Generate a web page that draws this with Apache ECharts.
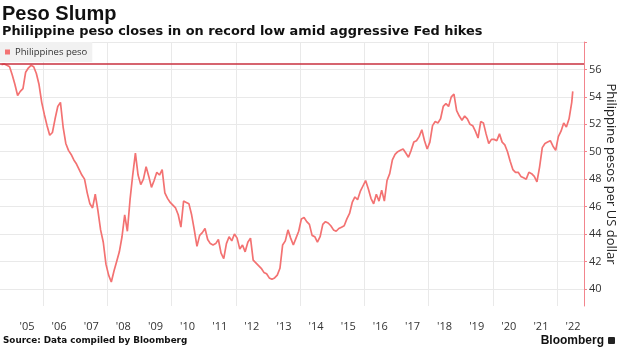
<!DOCTYPE html>
<html>
<head>
<meta charset="utf-8">
<script src="https://cdn.jsdelivr.net/npm/echarts@6/dist/echarts.min.js"></script>
<style>
  html, body { margin: 0; padding: 0; background: #ffffff; }
  #chart { width: 620px; height: 348px; }
</style>
</head>
<body>
<div id="chart"></div>
<script>
// USD/PHP month-by-month closes, starting September 2004
const seriesName = 'Philippines peso';
const firstYear = 2004;
const firstMonth = 9;
const pesoMonthly = [
  // 2004 Sep-Dec
  56.35, 56.4, 56.3, 56.2,
  // 2005
  55.6, 54.9, 54.1, 54.4, 54.6, 55.8, 56.1, 56.3, 56.2, 55.7, 54.9, 53.6,
  // 2006
  52.7, 51.9, 51.2, 51.4, 52.4, 53.3, 53.6, 51.8, 50.6, 50.1, 49.8, 49.4,
  // 2007
  49.1, 48.7, 48.3, 48.0, 47.0, 46.2, 45.9, 46.9, 45.7, 44.3, 43.4, 41.8,
  // 2008
  41.0, 40.5, 41.3, 42.0, 42.7, 43.8, 45.4, 44.2, 46.5, 48.3, 49.9, 48.3,
  // 2009
  47.6, 48.0, 48.9, 48.2, 47.4, 47.9, 48.5, 48.3, 48.7, 47.0, 46.6, 46.3,
  // 2010
  46.1, 45.9, 45.4, 44.5, 46.4, 46.3, 46.2, 45.4, 44.3, 43.1, 43.9, 44.1,
  // 2011
  44.4, 43.6, 43.3, 43.2, 43.3, 43.6, 42.6, 42.2, 43.3, 43.8, 43.5, 44.0,
  // 2012
  43.7, 42.9, 43.2, 42.7, 43.4, 43.7, 42.1, 41.9, 41.7, 41.5, 41.2, 41.1,
  // 2013
  40.8, 40.7, 40.8, 41.0, 41.5, 43.2, 43.5, 44.3, 43.7, 43.2, 43.7, 44.2,
  // 2014
  45.1, 45.2, 44.9, 44.7, 43.9, 43.8, 43.4, 43.8, 44.7, 44.9, 44.8, 44.6,
  // 2015
  44.3, 44.2, 44.4, 44.5, 44.6, 45.1, 45.5, 46.3, 46.7, 46.5, 47.1, 47.5,
  // 2016
  47.9, 47.3, 46.6, 46.2, 46.9, 46.4, 47.2, 46.4, 47.9, 48.4, 49.4, 49.8,
  // 2017
  50.0, 50.1, 50.2, 49.9, 49.6, 50.1, 50.7, 50.8, 51.1, 51.6, 50.8, 50.2,
  // 2018
  50.7, 51.9, 52.2, 52.1, 52.4, 53.3, 53.5, 53.3, 54.0, 54.2, 53.0, 52.6,
  // 2019
  52.3, 52.6, 52.4, 52.0, 51.9, 51.5, 51.0, 52.2, 52.1, 51.3, 50.6, 50.9,
  // 2020
  50.9, 50.8, 51.3, 50.7, 50.5, 50.0, 49.3, 48.7, 48.5, 48.5, 48.2, 48.1,
  // 2021
  48.0, 48.5, 48.4, 48.2, 47.8, 48.9, 50.3, 50.6, 50.7, 50.8, 50.4, 50.1,
  // 2022 Jan-Jun
  51.1, 51.5, 52.1, 51.8, 52.4, 53.6
];
// latest close, as a fractional year
const lastCloseYear = 2022.49;
const lastCloseValue = 54.4;
// record low of the peso against the dollar
const recordLow = 56.45;

const yLabelValues = [40, 42, 44, 46, 48, 50, 52, 54, 56];
const yTickValues = [40, 42, 44, 46, 48, 50, 52, 54, 56, 58];
const yearLabels = [2005, 2006, 2007, 2008, 2009, 2010, 2011, 2012, 2013,
  2014, 2015, 2016, 2017, 2018, 2019, 2020, 2021, 2022];
const gridYears = [2006, 2008, 2010, 2012, 2014, 2016, 2018, 2020, 2022];

// build [fractional year, value] pairs, each month placed at its midpoint
const points = pesoMonthly.map((v, i) => {
  const m = firstMonth - 1 + i;
  return [firstYear + (m + 0.5) / 12, v];
});
points.push([lastCloseYear, lastCloseValue]);

const chart = echarts.init(document.getElementById('chart'), null, { renderer: 'canvas' });

const labelFont = "'Open Sans', 'Liberation Sans', sans-serif";
const headFont = "'DejaVu Sans', 'Liberation Sans', sans-serif";
const armFont = "'Liberation Sans', Arial, sans-serif";

chart.setOption({
  animation: false,
  backgroundColor: '#ffffff',
  title: [
    { text: 'Peso Slump', left: 2, top: 4, padding: 0,
      textStyle: { fontFamily: armFont, fontSize: 20, fontWeight: 'bold', color: '#111' } },
    { text: 'Philippine peso closes in on record low amid aggressive Fed hikes', left: 2, top: 25, padding: 0,
      textStyle: { fontFamily: headFont, fontSize: 12.9, fontWeight: 'bold', color: '#111' } },
    { text: 'Source: Data compiled by Bloomberg', left: 3, top: 336, padding: 0,
      textStyle: { fontFamily: headFont, fontSize: 8.8, fontWeight: 'bold', color: '#111' } },
    { text: 'Bloomberg', right: 16, top: 335, padding: 0,
      textStyle: { fontFamily: armFont, fontSize: 12, fontWeight: 'bold', color: '#111' } }
  ],
  graphic: [
    { type: 'rect', right: 5, top: 337, shape: { width: 7, height: 7, r: 1 }, style: { fill: '#222' } }
  ],
  legend: {
    data: [seriesName],
    left: 0, top: 42,
    backgroundColor: '#f1f1f1',
    padding: [5, 5, 5, 5],
    icon: 'rect',
    itemWidth: 5, itemHeight: 5,
    textStyle: { fontFamily: labelFont, fontSize: 9.5, color: '#333' }
  },
  grid: { left: 0, right: 36, top: 42, bottom: 42, containLabel: false, outerBoundsMode: 'none' },
  xAxis: {
    type: 'value',
    min: 2004.66,
    max: 2022.84,
    axisLine: { show: false },
    axisTick: { show: false, customValues: gridYears },
    splitLine: { show: true, lineStyle: { color: '#e9e9e9', width: 1 } },
    axisLabel: {
      customValues: yearLabels.map(y => y + 0.5),
      formatter: v => "'" + String(Math.floor(v)).slice(2),
      margin: 15,
      fontFamily: labelFont, fontSize: 11, color: '#333'
    }
  },
  yAxis: {
    type: 'value',
    position: 'right',
    min: 38.75,
    max: 58,
    name: 'Philippine pesos per US dollar',
    nameLocation: 'middle',
    nameRotate: -90,
    nameGap: 20,
    nameMoveOverlap: false,
    nameTextStyle: { fontFamily: labelFont, fontSize: 13, color: '#222' },
    axisLine: { show: true, lineStyle: { color: '#f2858d', width: 1 } },
    axisTick: { show: true, length: 3, customValues: yTickValues, lineStyle: { color: '#f2858d' } },
    splitLine: { show: true, lineStyle: { color: '#e9e9e9', width: 1 } },
    axisLabel: {
      customValues: yLabelValues,
      margin: 5,
      fontFamily: labelFont, fontSize: 11, color: '#333'
    }
  },
  series: [{
    name: seriesName,
    type: 'line',
    data: points,
    showSymbol: false,
    symbol: 'none',
    lineStyle: { color: '#f37272', width: 1.7 },
    itemStyle: { color: '#f37272' },
    markLine: {
      silent: true,
      symbol: ['none', 'none'],
      label: { show: false },
      lineStyle: { color: '#c9303f', width: 1.5, type: 'solid' },
      data: [{ yAxis: recordLow }]
    }
  }]
});
</script>
</body>
</html>
